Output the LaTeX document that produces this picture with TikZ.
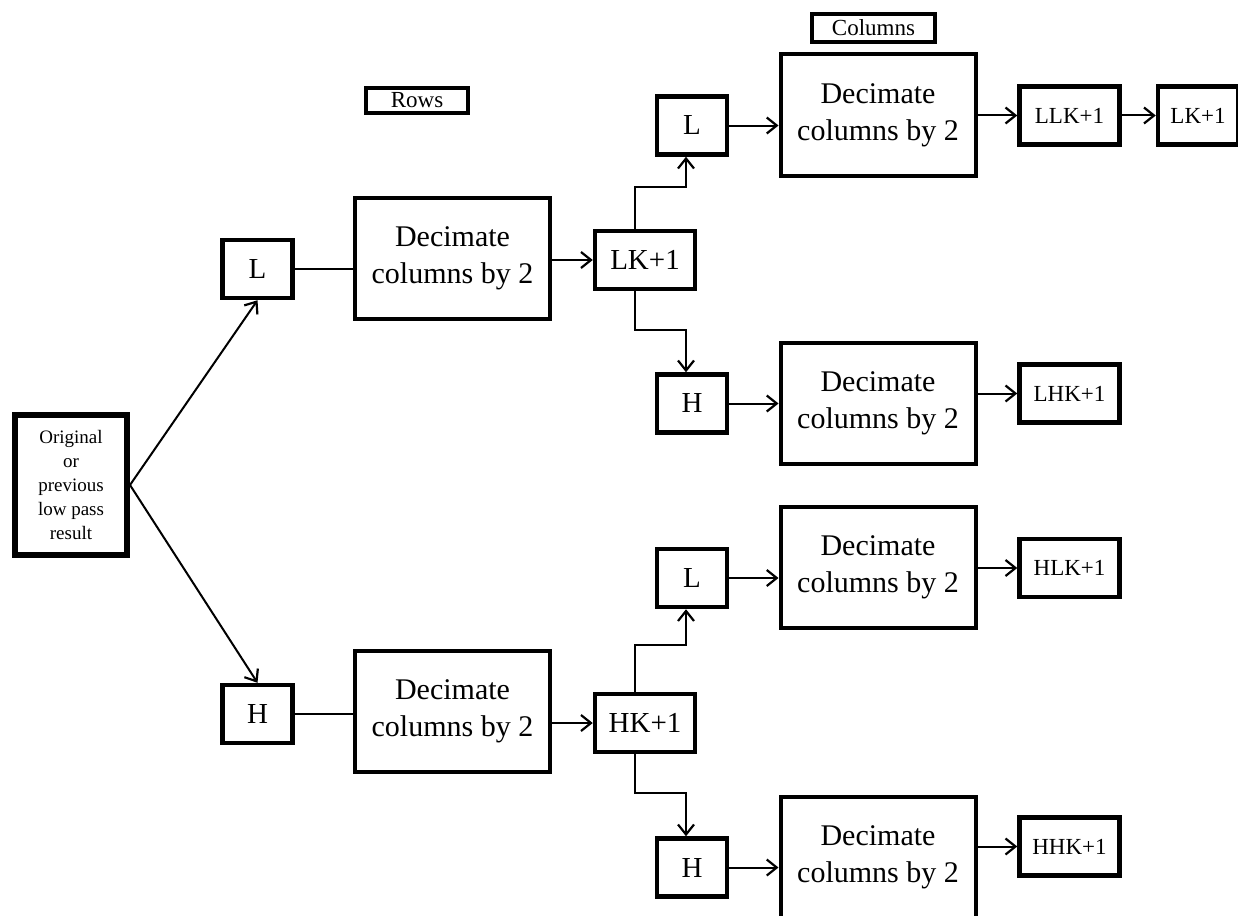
\documentclass[tikz,border=0pt]{standalone}
\usepackage{fontspec}
\setmainfont{Liberation Serif}
\tikzstyle{block}=[rectangle,draw=black,line width=4.5pt,minimum width=70pt,
minimum height=58pt,inner sep=0pt,font=\fontsize{29}{34}\selectfont]
\tikzstyle{kblock}=[block,minimum width=100pt]
\tikzstyle{rblock}=[block,minimum width=100pt,font=\fontsize{23}{27}\selectfont]
\tikzstyle{dblock}=[rectangle,draw=black,line width=4pt,minimum width=195pt,
minimum height=121pt,inner sep=0pt,align=center,font=\fontsize{30}{37}\selectfont]
\tikzstyle{oblock}=[rectangle,draw=black,line width=6pt,minimum width=112pt,
minimum height=140pt,inner sep=0pt,align=center,font=\fontsize{19}{24}\selectfont]
\tikzstyle{tag}=[rectangle,draw=black,line width=4pt,inner sep=0pt,
font=\fontsize{23}{27}\selectfont]
\tikzstyle{wire}=[line width=2pt]
\usetikzlibrary{positioning,arrows.meta}

\begin{document}
\begin{tikzpicture}[x=1pt,y=-1pt,>={Straight Barb[length=10pt,width=16pt,line width=2.2pt]}]
            \useasboundingbox (0,0) rectangle (1238,915);

            % INPUT + ROWS PART

            \node[oblock] (orig) at (71,485) {Original\\or\\previous\\low pass\\result};
            \node[block] (l1) at (257.5,269) {L};
            \node[block] (h1) at (257.5,714) {H};
            \node[dblock] (dec1) at (452.5,258.5) {Decimate\\columns by 2};
            \node[dblock] (dec2) at (452.5,711.5) {Decimate\\columns by 2};
            \node[kblock] (lk) at (645,260) {LK+1};
            \node[kblock] (hk) at (645,723) {HK+1};
            \node[tag,minimum width=102pt,minimum height=25pt] (rows) at (417,100.5) {Rows};

            \path[->,wire] (orig.east) edge node {} (l1.south);
            \path[->,wire] (orig.east) edge node {} (h1.north);
            \path[wire] (l1.east) edge node {} (l1.east -| dec1.west);
            \path[wire] (h1.east) edge node {} (h1.east -| dec2.west);
            \path[->,wire] (dec1.east |- lk) edge node {} (lk.west);
            \path[->,wire] (dec2.east |- hk) edge node {} (hk.west);

            % COLUMNS PART

            \node[block] (ll) at (692,125.5) {L};
            \node[block] (lh) at (692,403.5) {H};
            \node[block] (hl) at (692,578) {L};
            \node[block] (hh) at (692,867.5) {H};
            \node[dblock] (decA) at (878,115) {Decimate\\columns by 2};
            \node[dblock] (decB) at (878,403.5) {Decimate\\columns by 2};
            \node[dblock] (decC) at (878,567.5) {Decimate\\columns by 2};
            \node[dblock] (decD) at (878,857.5) {Decimate\\columns by 2};
            \node[rblock] (llk) at (1069.5,115.5) {LLK+1};
            \node[rblock,minimum width=80pt,right=34pt of llk] (lkf) {LK+1};
            \node[rblock] (lhk) at (1069.5,393.5) {LHK+1};
            \node[rblock] (hlk) at (1069.5,568) {HLK+1};
            \node[rblock] (hhk) at (1069.5,846.5) {HHK+1};
            \node[tag,minimum width=123pt,minimum height=28pt] (cols) at (873.5,28) {Columns};

            \draw[->,wire] ([xshift=-10pt]lk.north) -- ++(0,-42) -| ([xshift=-6pt]ll.south);
            \draw[->,wire] ([xshift=-10pt]lk.south) -- ++(0,39) -| ([xshift=-6pt]lh.north);
            \draw[->,wire] ([xshift=-10pt]hk.north) -- ++(0,-47) -| ([xshift=-6pt]hl.south);
            \draw[->,wire] ([xshift=-10pt]hk.south) -- ++(0,39) -| ([xshift=-6pt]hh.north);

            \path[->,wire] (ll.east) edge node {} (ll.east -| decA.west);
            \path[->,wire] (lh.east) edge node {} (lh.east -| decB.west);
            \path[->,wire] (hl.east) edge node {} (hl.east -| decC.west);
            \path[->,wire] (hh.east) edge node {} (hh.east -| decD.west);

            \path[->,wire] (decA.east |- llk) edge node {} (llk.west);
            \path[->,wire] (llk.east) edge node {} (lkf.west);
            \path[->,wire] (decB.east |- lhk) edge node {} (lhk.west);
            \path[->,wire] (decC.east |- hlk) edge node {} (hlk.west);
            \path[->,wire] (decD.east |- hhk) edge node {} (hhk.west);

\end{tikzpicture}
\end{document}
